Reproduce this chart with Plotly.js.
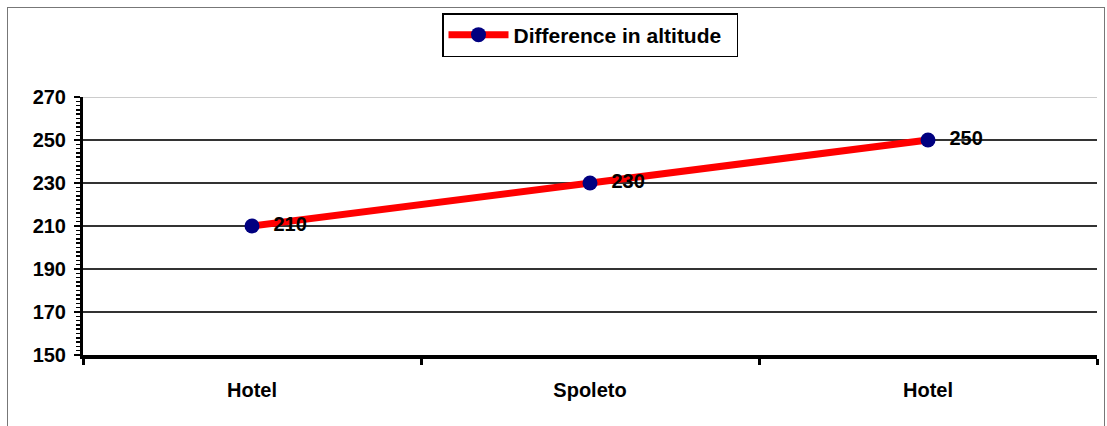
<!DOCTYPE html>
<html>
<head>
<meta charset="utf-8">
<script src="https://cdn.plot.ly/plotly-3.0.1.min.js"></script>
<style>
html,body{margin:0;padding:0;background:#fff;}
#wrap{position:absolute;left:7px;top:7px;width:1098px;height:425px;border:1px solid #777;box-sizing:border-box;}
#chart{position:absolute;left:0;top:0;width:1107px;height:426px;}
</style>
</head>
<body>
<div id="wrap"></div>
<div id="chart"></div>
<script>
const categories = ["Hotel", "Spoleto", "Hotel"];
const altitude = [210, 230, 250];
const seriesName = "Difference in altitude";
const yTicks = [150, 170, 190, 210, 230, 250, 270];

const xPos = categories.map((c, i) => i);
const FAM = 'Liberation Sans, Arial, sans-serif';

const trace = {
  x: xPos,
  y: altitude,
  type: 'scatter',
  mode: 'lines+markers+text',
  name: seriesName,
  texttemplate: '  %{y}',
  textposition: 'middle right',
  textfont: {family: FAM, size: 20, color: '#000', weight: 'bold'},
  line: {color: '#ff0000', width: 7},
  marker: {color: '#000080', size: 15},
  cliponaxis: false
};

const font = {family: FAM, size: 20, color: '#000', weight: 'bold'};

const layout = {
  width: 1107,
  height: 426,
  margin: {l: 83, r: 10, t: 97, b: 71},
  paper_bgcolor: 'rgba(0,0,0,0)',
  plot_bgcolor: '#fff',
  font: font,
  showlegend: true,
  legend: {
    orientation: 'h',
    x: 590/1107, xanchor: 'center', xref: 'container',
    y: 1 - 13/426, yanchor: 'top', yref: 'container',
    bordercolor: '#000', borderwidth: 1.5,
    bgcolor: '#fff',
    font: {family: FAM, size: 21, color: '#000', weight: 'bold'},
    itemwidth: 60,
    entrywidth: 218
  },
  xaxis: {
    range: [-0.5, 2.5],
    tickmode: 'array',
    tickvals: xPos,
    ticktext: categories,
    ticks: 'outside',
    ticklen: 14,
    tickcolor: 'rgba(0,0,0,0)',
    showgrid: false,
    showline: true,
    linecolor: '#000',
    linewidth: 4,
    zeroline: false,
    tickfont: font,
    minor: {tickmode: 'linear', tick0: -0.5, dtick: 1, ticks: 'outside', ticklen: 6, tickwidth: 3, tickcolor: '#000', showgrid: false}
  },
  yaxis: {
    range: [150, 270],
    tickmode: 'array',
    tickvals: yTicks,
    ticks: 'outside',
    ticklen: 6,
    tickwidth: 2,
    tickcolor: '#000',
    showline: true,
    linecolor: '#000',
    linewidth: 3,
    showgrid: true,
    gridcolor: '#333',
    gridwidth: 2,
    zeroline: false,
    tickfont: font,
    ticklabelstandoff: 4,
    minor: {tickmode: 'linear', tick0: 150, dtick: 2, ticks: 'outside', ticklen: 4, tickwidth: 1.5, tickcolor: '#000', showgrid: false}
  },
  shapes: [
    {type: 'line', xref: 'paper', yref: 'y', x0: 0, x1: 1, y0: 270, y1: 270, line: {color: '#ccc', width: 2}, layer: 'above'}
  ]
};

Plotly.newPlot('chart', [trace], layout, {displayModeBar: false, staticPlot: true});
</script>
</body>
</html>
